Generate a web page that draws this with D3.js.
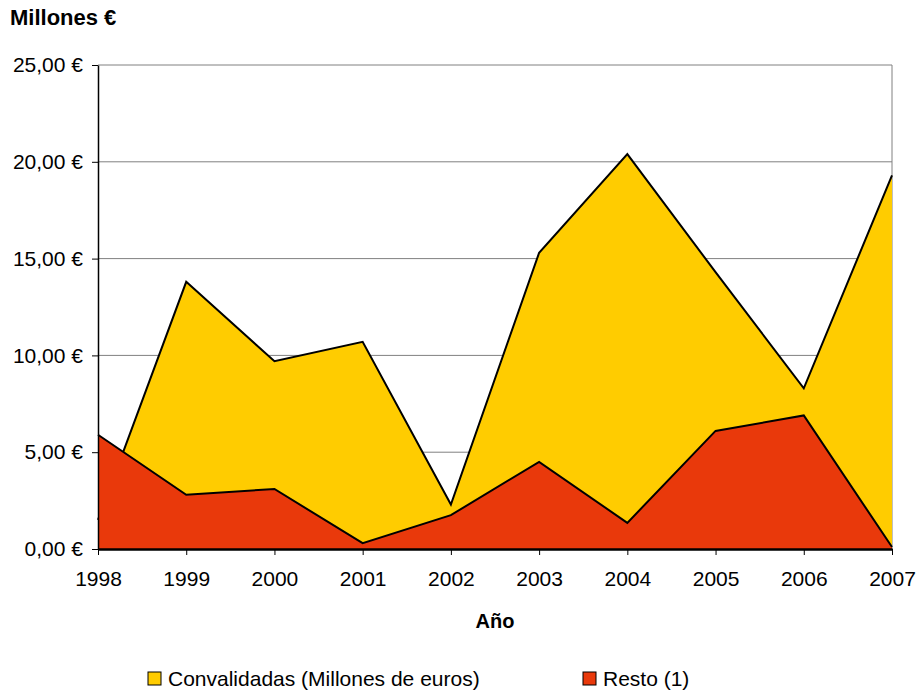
<!DOCTYPE html>
<html>
<head>
<meta charset="utf-8">
<script src="https://cdn.jsdelivr.net/npm/d3@7"></script>
<style>
  body { margin: 0; background: #fff; }
  text { font-family: "Liberation Sans", Arial, sans-serif; }
</style>
</head>
<body>
<div id="chart-container"></div>
<script>
const years = [1998, 1999, 2000, 2001, 2002, 2003, 2004, 2005, 2006, 2007]
const convalidadas = [1.5, 13.8, 9.7, 10.7, 2.3, 15.3, 20.4, 14.3, 8.3, 19.3]
const resto = [5.9, 2.8, 3.1, 0.3, 1.75, 4.5, 1.35, 6.1, 6.9, 0.1]
const yTicks = [0, 5, 10, 15, 20, 25]
const seriesNames = ["Convalidadas (Millones de euros)", "Resto (1)"]
const colors = ["#FFCC00", "#E9390B"]

const margin = {top: 65, right: 26, bottom: 142, left: 98}
const width = 918 - margin.left - margin.right
const height = 691 - margin.top - margin.bottom

const svg = d3.select("#chart-container")
    .append("svg")
        .attr("width", 918)
        .attr("height", 691)

const g = svg.append("g")
    .attr("transform", `translate(${margin.left}, ${margin.top})`)

const x = d3.scaleLinear()
    .domain([1998, 2007])
    .range([0, width])
const y = d3.scaleLinear()
    .domain([0, 25])
    .range([height, 0])

// gridlines
g.append("g")
    .selectAll("line")
    .data(yTicks.filter(d => d > 0))
    .enter().append("line")
        .attr("x1", 0).attr("x2", width)
        .attr("y1", d => y(d)).attr("y2", d => y(d))
        .attr("stroke", "#808080")
        .attr("stroke-width", 1)

// right border
g.append("line")
    .attr("x1", width).attr("x2", width)
    .attr("y1", 0).attr("y2", height)
    .attr("stroke", "#808080")

const area = d3.area()
    .x((d, i) => x(years[i]))
    .y0(y(0))
    .y1(d => y(d))

const line = d3.line()
    .x((d, i) => x(years[i]))
    .y(d => y(d))

;[convalidadas, resto].forEach((s, k) => {
    g.append("path")
        .datum(s)
        .attr("fill", colors[k])
        .attr("d", area)
    g.append("path")
        .datum(s)
        .attr("fill", "none")
        .attr("stroke", "#000")
        .attr("stroke-width", 2)
        .attr("d", line)
})

// axes
const yAxis = g.append("g")
    .call(d3.axisLeft(y)
        .tickValues(yTicks)
        .tickSize(6)
        .tickSizeOuter(0)
        .tickFormat(d => d3.format(".2f")(d).replace(".", ",") + " €"))
yAxis.select(".domain").attr("stroke", "#000").attr("stroke-width", 1.5)
yAxis.selectAll(".tick line").attr("stroke", "#000")
yAxis.selectAll("text")
    .attr("font-size", 21)
    .attr("font-family", "Liberation Sans, Arial, sans-serif")
    .attr("fill", "#000")
    .attr("x", -15)

const xAxis = g.append("g")
    .attr("transform", `translate(0, ${height})`)
    .call(d3.axisBottom(x)
        .tickValues(years)
        .tickSize(6)
        .tickSizeOuter(0)
        .tickFormat(d3.format("d")))
xAxis.select(".domain").attr("stroke", "#000").attr("stroke-width", 2.5)
xAxis.selectAll(".tick line").attr("stroke", "#000")
xAxis.selectAll("text")
    .attr("font-size", 21)
    .attr("font-family", "Liberation Sans, Arial, sans-serif")
    .attr("fill", "#000")
    .attr("y", 22)

// titles
svg.append("text")
    .attr("x", 10).attr("y", 25)
    .attr("font-size", 22)
    .attr("font-weight", "bold")
    .text("Millones €")

svg.append("text")
    .attr("x", margin.left + width / 2).attr("y", 628)
    .attr("text-anchor", "middle")
    .attr("font-size", 20)
    .attr("font-weight", "bold")
    .text("Año")

// legend
const legendX = [148, 583]
const legend = svg.selectAll(".legend")
    .data(seriesNames)
    .enter().append("g")
    .attr("class", "legend")
    .attr("transform", (d, i) => `translate(${legendX[i]}, 672)`)

legend.append("rect")
    .attr("width", 13).attr("height", 13)
    .attr("fill", (d, i) => colors[i])
    .attr("stroke", "#000")
    .attr("stroke-width", 1)

legend.append("text")
    .attr("x", 20).attr("y", 14)
    .attr("font-size", 21)
    .text(d => d)
</script>
</body>
</html>
